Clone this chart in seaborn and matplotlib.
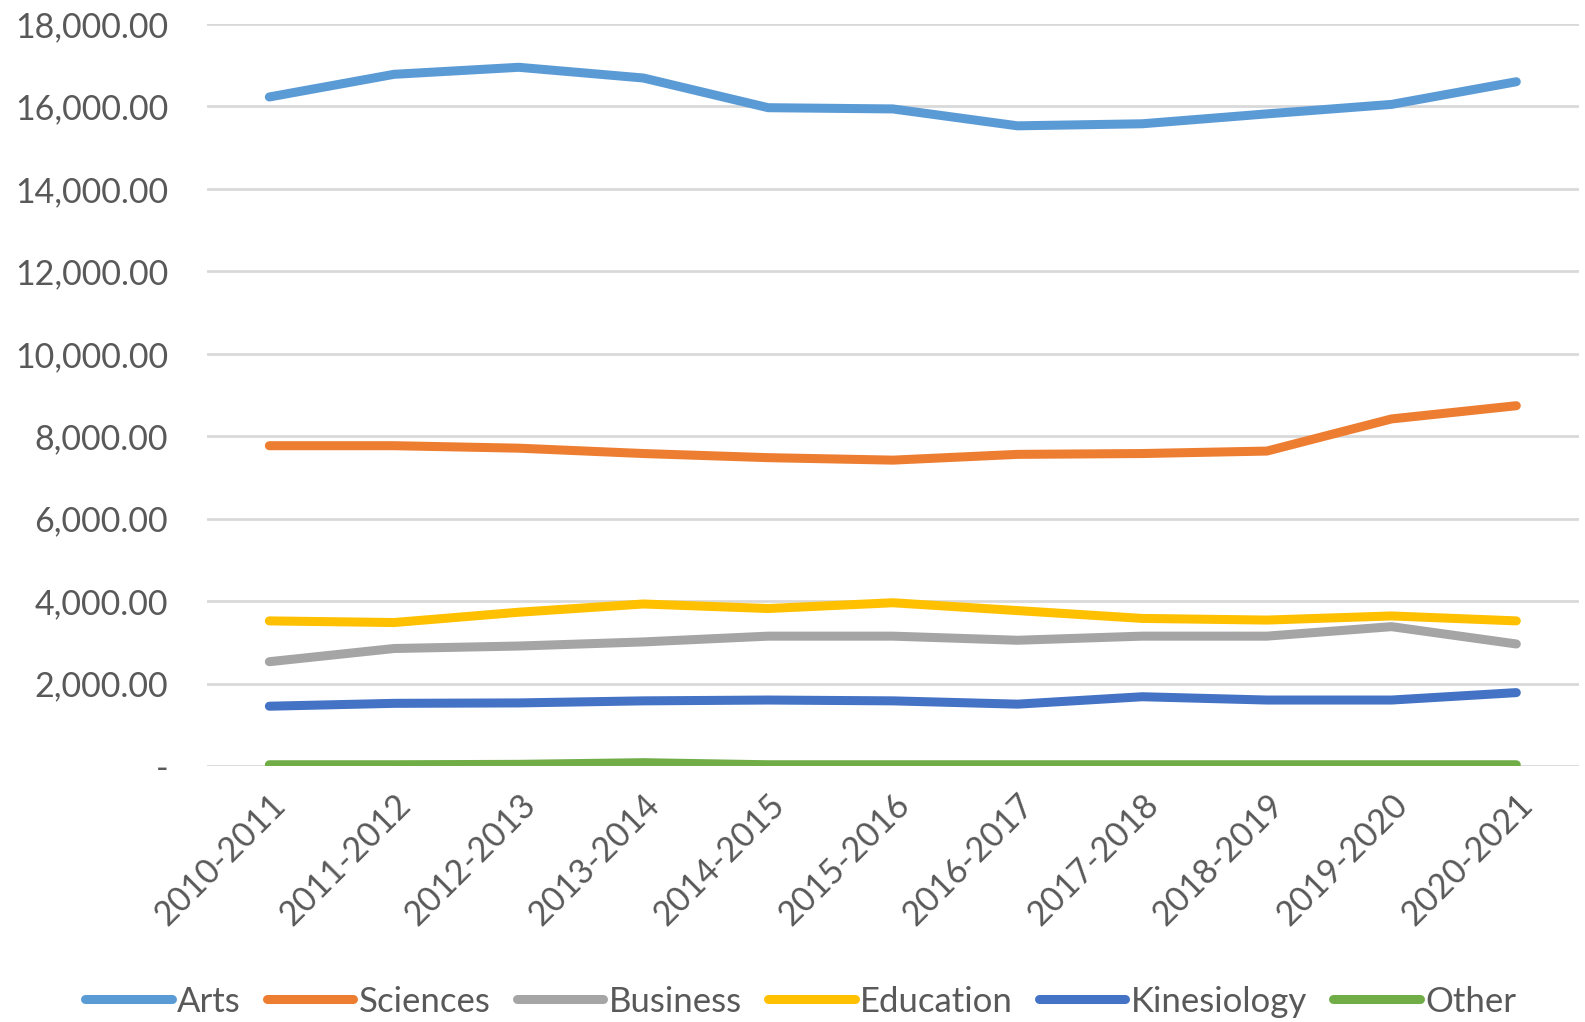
import matplotlib
matplotlib.use("Agg")
import matplotlib.pyplot as plt
from matplotlib.ticker import FuncFormatter, MultipleLocator
import pandas as pd
import seaborn as sns

years = ["2010-2011", "2011-2012", "2012-2013", "2013-2014", "2014-2015", "2015-2016",
         "2016-2017", "2017-2018", "2018-2019", "2019-2020", "2020-2021"]

arts = [16230, 16780, 16950, 16690, 15970, 15940, 15530, 15580, 15820, 16050, 16600]
sciences = [7770, 7770, 7710, 7580, 7480, 7420, 7560, 7580, 7640, 8420, 8740]
business = [2530, 2850, 2910, 3010, 3150, 3150, 3050, 3150, 3150, 3380, 2960]
education = [3520, 3480, 3730, 3930, 3820, 3960, 3770, 3580, 3540, 3640, 3520]
kinesiology = [1450, 1520, 1530, 1580, 1600, 1580, 1500, 1680, 1600, 1600, 1780]
other = [30, 30, 40, 80, 30, 30, 30, 30, 30, 30, 30]

series = {
    "Arts": arts,
    "Sciences": sciences,
    "Business": business,
    "Education": education,
    "Kinesiology": kinesiology,
    "Other": other,
}
colors = ["#5B9BD5", "#ED7D31", "#A5A5A5", "#FFC000", "#4472C4", "#70AD47"]

rows = []
for name, vals in series.items():
    for i, (yr, v) in enumerate(zip(years, vals)):
        rows.append({"Year": yr, "idx": i, "Faculty": name, "Value": v})
df = pd.DataFrame(rows)

sns.set_theme(style="white")
plt.rcParams["font.family"] = ["Lato", "DejaVu Sans"]

fig = plt.figure(figsize=(15.85, 10.22), dpi=100)
ax = fig.add_axes([0.1306, 0.2505, 0.8654, 0.726])

lw = 6.5
sns.lineplot(data=df, x="idx", y="Value", hue="Faculty", hue_order=list(series.keys()),
             palette=colors, linewidth=lw, ax=ax, legend=False, sort=False,
             solid_capstyle="round", zorder=3)

ax.set_xlim(-0.5, len(years) - 0.5)
ax.set_ylim(0, 18000)
ax.yaxis.set_major_locator(MultipleLocator(2000))
ax.yaxis.set_major_formatter(FuncFormatter(lambda v, p: "-" if v == 0 else f"{v:,.2f}"))
ax.grid(axis="y", color="#d9d9d9", linewidth=2.0, zorder=0)
ax.grid(axis="x", visible=False)
for s in ax.spines.values():
    s.set_visible(False)

ax.set_xticks(range(len(years)))
ax.set_xticklabels(years, rotation=45, ha="right", rotation_mode="anchor")
ax.tick_params(axis="x", length=0, pad=16, labelsize=24.5, labelcolor="#595959")
ax.tick_params(axis="y", length=0, pad=28, labelsize=24.5, labelcolor="#595959")
ax.set_xlabel("")
ax.set_ylabel("")

handles = [plt.Line2D([0], [0], color=c, linewidth=lw, solid_capstyle="round") for c in colors]
fig.legend(handles, list(series.keys()), loc="center", bbox_to_anchor=(0.505, 0.02),
           ncol=6, frameon=False, fontsize=25, handlelength=2.5, handletextpad=0.15,
           columnspacing=0.75, labelcolor="#595959")

fig.savefig("out.png", dpi=100)
